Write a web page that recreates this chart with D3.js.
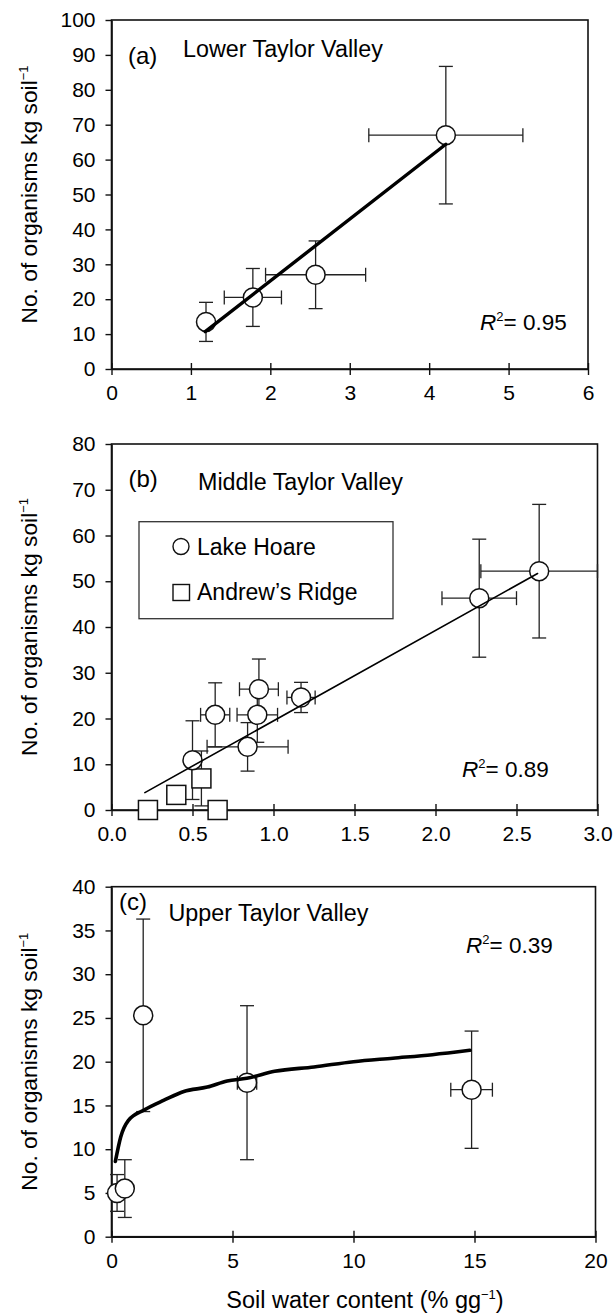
<!DOCTYPE html>
<html><head><meta charset="utf-8">
<script src="https://cdn.jsdelivr.net/npm/d3@7"></script>
<style>
body{margin:0;background:#fff}
text{font-family:"Liberation Sans",Arial,Helvetica,sans-serif;fill:#000}
</style>
</head><body>
<svg id="chart" width="616" height="1313"></svg>
<script>
// ---------- DATA ----------
// Panel (a) Lower Taylor Valley
const aX    = [1.19, 1.78, 2.57, 4.21];
const aY    = [13.5, 20.5, 27.0, 67.0];
const aXerr = [0, 0.36, 0.63, 0.97];
const aYerr = [5.6, 8.3, 9.7, 19.7];
const aFitX = [1.18, 4.21];
const aFitY = [10.7, 64.4];
const aXTicks = [0, 1, 2, 3, 4, 5, 6];
const aYTicks = [0, 10, 20, 30, 40, 50, 60, 70, 80, 90, 100];

// Panel (b) Middle Taylor Valley — Lake Hoare (circles)
const bHoareX    = [0.50, 0.64, 0.91, 0.90, 1.17, 0.84, 2.27, 2.64];
const bHoareY    = [10.9, 20.8, 26.4, 20.8, 24.6, 13.8, 46.3, 52.2];
const bHoareXerr = [0, 0.09, 0.12, 0.125, 0.087, 0.25, 0.23, 0.36];
const bHoareYerr = [8.6, 7.0, 6.6, 6.0, 3.3, 5.3, 12.9, 14.6];
// Andrew's Ridge (squares)
const bRidgeX    = [0.225, 0.40, 0.555, 0.655];
const bRidgeY    = [0, 3.3, 6.9, 0];
const bRidgeYerr = [0, 0, 6.0, 0];
const bFitX = [0.206, 2.63];
const bFitY = [3.8, 51.7];
const bXTicks = [0, 0.5, 1.0, 1.5, 2.0, 2.5, 3.0];
const bYTicks = [0, 10, 20, 30, 40, 50, 60, 70, 80];

// Panel (c) Upper Taylor Valley
const cX    = [0.23, 0.55, 1.31, 5.6, 14.88];
const cY    = [5.0, 5.5, 25.3, 17.6, 16.8];
const cXerr = [0.2, 0, 0, 0.4, 0.86];
const cYerr = [2.1, 3.3, 11.0, 8.8, 6.7];
const cFitX = [0.16, 0.38, 0.70, 1.36, 2.17, 2.99, 3.96, 4.78, 5.59, 6.74, 8.37, 10.0, 11.63, 13.26, 14.81];
const cFitY = [8.6, 11.4, 13.3, 14.5, 15.6, 16.6, 17.1, 17.8, 18.1, 18.9, 19.4, 20.0, 20.4, 20.8, 21.3];
const cXTicks = [0, 5, 10, 15, 20];
const cYTicks = [0, 5, 10, 15, 20, 25, 30, 35, 40];

const yTitle = "No. of organisms kg soil";
const xTitle = "Soil water content (% gg";

// ---------- DRAWING ----------
const svg = d3.select("#chart");
const FS_TICK = 21, FS_TXT = 22.5, FS_TITLE = 23.3;

function panel(o) {
  const x = d3.scaleLinear().domain(o.xd).range([o.l, o.r]);
  const y = d3.scaleLinear().domain(o.yd).range([o.b, o.t]);
  const g = svg.append("g");

  // frame
  g.append("rect").attr("x", o.l).attr("y", o.t)
    .attr("width", o.r - o.l).attr("height", o.b - o.t)
    .attr("fill", "none").attr("stroke", "#111").attr("stroke-width", 1.6);

  // y axis
  const ya = g.append("g").attr("transform", `translate(${o.l},0)`)
    .call(d3.axisLeft(y).tickValues(o.yt).tickSizeInner(6).tickSizeOuter(0).tickPadding(10).tickFormat(d3.format("d")));
  ya.select(".domain").attr("stroke", "#111").attr("stroke-width", 1.6);
  ya.selectAll(".tick line").attr("stroke", "#111").attr("stroke-width", 1.4);
  ya.selectAll("text").attr("font-size", FS_TICK).attr("font-family", "Liberation Sans, Arial, sans-serif").attr("fill", "#000");

  // x axis
  const xa = g.append("g").attr("transform", `translate(0,${o.b})`)
    .call(d3.axisBottom(x).tickValues(o.xt).tickSizeInner(6).tickSizeOuter(0).tickPadding(10).tickFormat(o.xf));
  xa.select(".domain").attr("stroke", "#111").attr("stroke-width", 1.6);
  xa.selectAll(".tick line").attr("y1", -6).attr("y2", 6).attr("stroke", "#111").attr("stroke-width", 1.4);
  xa.selectAll("text").attr("y", 16).attr("font-size", FS_TICK).attr("font-family", "Liberation Sans, Arial, sans-serif").attr("fill", "#000");

  // y title
  const yt = g.append("text")
    .attr("transform", `translate(37,${(o.t + o.b) / 2}) rotate(-90)`)
    .attr("text-anchor", "middle").attr("font-size", 22.8);
  yt.append("tspan").text(yTitle);
  yt.append("tspan").attr("dy", -9).attr("font-size", 13).text("\u22121");

  // panel letter and title
  g.append("text").attr("x", o.lx).attr("y", o.ly).attr("font-size", 24).text(o.letter);
  g.append("text").attr("x", o.tx).attr("y", o.ty).attr("font-size", FS_TITLE).text(o.title);

  // R^2
  const rt = g.append("text").attr("x", o.rx).attr("y", o.ry).attr("font-size", FS_TXT);
  rt.append("tspan").attr("font-style", "italic").text("R");
  rt.append("tspan").attr("dy", -9).attr("font-size", 13).text("2");
  rt.append("tspan").attr("dy", 9).text("= " + o.r2);

  return {g, x, y};
}

function errorBars(g, x, y, xs, ys, xe, ye) {
  const cap = 7;
  const eb = g.append("g").attr("stroke", "#222").attr("stroke-width", 1.3).attr("fill", "none");
  xs.forEach((xv, i) => {
    if (ye[i] > 0) {
      const y1 = y(ys[i] - ye[i]), y2 = y(ys[i] + ye[i]), px = x(xv);
      eb.append("line").attr("x1", px).attr("x2", px).attr("y1", y1).attr("y2", y2);
      eb.append("line").attr("x1", px - cap).attr("x2", px + cap).attr("y1", y1).attr("y2", y1);
      eb.append("line").attr("x1", px - cap).attr("x2", px + cap).attr("y1", y2).attr("y2", y2);
    }
    if (xe && xe[i] > 0) {
      const x1 = x(xv - xe[i]), x2 = x(xv + xe[i]), py = y(ys[i]);
      eb.append("line").attr("x1", x1).attr("x2", x2).attr("y1", py).attr("y2", py);
      eb.append("line").attr("x1", x1).attr("x2", x1).attr("y1", py - cap).attr("y2", py + cap);
      eb.append("line").attr("x1", x2).attr("x2", x2).attr("y1", py - cap).attr("y2", py + cap);
    }
  });
}

function circles(g, x, y, xs, ys) {
  g.append("g").selectAll("circle").data(xs).join("circle")
    .attr("cx", d => x(d)).attr("cy", (d, i) => y(ys[i])).attr("r", 9.5)
    .attr("fill", "#fff").attr("stroke", "#111").attr("stroke-width", 1.5);
}

function fitLine(g, x, y, fx, fy, w, curve) {
  const line = d3.line().x(d => x(d)).y((d, i) => y(fy[i])).curve(curve || d3.curveLinear);
  g.append("path").attr("d", line(fx)).attr("fill", "none").attr("stroke", "#000")
    .attr("stroke-width", w).attr("stroke-linecap", "round").attr("stroke-linejoin", "round");
}

// Panel (a)
let P = panel({xd: [0, 6], yd: [0, 100], l: 111.5, r: 588, t: 20, b: 369,
  xt: aXTicks, yt: aYTicks, xf: d3.format("d"),
  letter: "(a)", lx: 128, ly: 64, title: "Lower Taylor Valley", tx: 183, ty: 57,
  r2: "0.95", rx: 480, ry: 330});
errorBars(P.g, P.x, P.y, aX, aY, aXerr, aYerr);
circles(P.g, P.x, P.y, aX, aY);
fitLine(P.g, P.x, P.y, aFitX, aFitY, 3.4);

// Panel (b)
P = panel({xd: [0, 3], yd: [0, 80], l: 111.5, r: 597.5, t: 444, b: 810,
  xt: bXTicks, yt: bYTicks, xf: d3.format(".1f"),
  letter: "(b)", lx: 128.5, ly: 487, title: "Middle Taylor Valley", tx: 198, ty: 490,
  r2: "0.89", rx: 462, ry: 777});
errorBars(P.g, P.x, P.y, bHoareX, bHoareY, bHoareXerr, bHoareYerr);
errorBars(P.g, P.x, P.y, bRidgeX, bRidgeY, null, bRidgeYerr);
P.g.append("g").selectAll("rect").data(bRidgeX).join("rect")
  .attr("x", d => P.x(d) - 9.5).attr("y", (d, i) => P.y(bRidgeY[i]) - 9.5)
  .attr("width", 19).attr("height", 19)
  .attr("fill", "#fff").attr("stroke", "#111").attr("stroke-width", 1.5);
circles(P.g, P.x, P.y, bHoareX, bHoareY);
fitLine(P.g, P.x, P.y, bFitX, bFitY, 1.6);
// legend
const lg = P.g.append("g");
lg.append("rect").attr("x", 139).attr("y", 521.7).attr("width", 254).attr("height", 97)
  .attr("fill", "#fff").attr("stroke", "#333").attr("stroke-width", 1.3);
lg.append("circle").attr("cx", 181).attr("cy", 546.5).attr("r", 8)
  .attr("fill", "#fff").attr("stroke", "#111").attr("stroke-width", 1.4);
lg.append("text").attr("x", 197).attr("y", 555).attr("font-size", 23).text("Lake Hoare");
lg.append("rect").attr("x", 173).attr("y", 584.5).attr("width", 16.5).attr("height", 16)
  .attr("fill", "#fff").attr("stroke", "#111").attr("stroke-width", 1.4);
lg.append("text").attr("x", 197).attr("y", 600).attr("font-size", 23).text("Andrew\u2019s Ridge");

// Panel (c)
P = panel({xd: [0, 20], yd: [0, 40], l: 111.5, r: 595.5, t: 886.7, b: 1236.7,
  xt: cXTicks, yt: cYTicks, xf: d3.format("d"),
  letter: "(c)", lx: 119, ly: 910, title: "Upper Taylor Valley", tx: 168.5, ty: 921,
  r2: "0.39", rx: 466, ry: 953});
errorBars(P.g, P.x, P.y, cX, cY, cXerr, cYerr);
circles(P.g, P.x, P.y, cX, cY);
fitLine(P.g, P.x, P.y, cFitX, cFitY, 3.6, d3.curveMonotoneX);

// x-axis title
const xtt = svg.append("text").attr("x", 365).attr("y", 1308).attr("text-anchor", "middle").attr("font-size", 23.5);
xtt.append("tspan").text(xTitle);
xtt.append("tspan").attr("dy", -9).attr("font-size", 13).text("\u22121");
xtt.append("tspan").attr("dy", 9).text(")");
</script>
</body></html>
